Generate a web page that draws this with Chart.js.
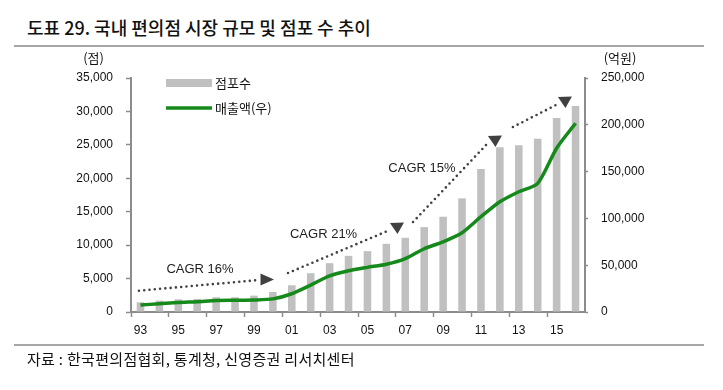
<!DOCTYPE html>
<html><head><meta charset="utf-8">
<script src="https://cdn.jsdelivr.net/npm/chart.js@4"></script>
<style>
html,body{margin:0;padding:0;background:#fff;}
#wrap{position:relative;width:723px;height:390px;overflow:hidden;}
#c{position:absolute;left:0;top:0;}
.txt{position:absolute;font-family:"Noto Sans CJK KR","Noto Sans",sans-serif;color:#111;white-space:nowrap;}
#title{left:27px;top:17px;font-size:18px;line-height:21px;font-weight:500;}
#src{left:27px;top:349px;font-size:15px;line-height:19px;letter-spacing:0.3px;}
.rule{position:absolute;left:14px;width:690px;height:2px;background:#a6a6a6;}
</style></head>
<body><div id="wrap">
<div id="title" class="txt">도표 29. 국내 편의점 시장 규모 및 점포 수 추이</div>
<div class="rule" style="top:45px"></div>
<canvas id="c" width="723" height="390"></canvas>
<div class="rule" style="top:344px"></div>
<div id="src" class="txt">자료 : 한국편의점협회, 통계청, 신영증권 리서치센터</div>
</div>
<script>
// ---- data ----
const categories = ['93','94','95','96','97','98','99','00','01','02','03','04','05','06','07','08','09','10','11','12','13','14','15','16'];
const stores = [1450,1700,1900,1950,2200,2200,2450,3000,4000,5800,7300,8400,9100,10200,11100,12700,14250,17000,21400,24650,24950,25900,29000,30800];
const sales = [7500,8800,10200,11000,12200,12500,12800,14000,19500,28800,38500,44000,47700,51000,57000,67600,75000,84700,101800,117800,128500,137500,175000,201600];
const leftTicks = [0,5000,10000,15000,20000,25000,30000,35000];
const rightTicks = [0,50000,100000,150000,200000,250000];
const seriesNames = ['점포수','매출액(우)'];
const unitLeft = '(점)';
const unitRight = '(억원)';
// CAGR annotations in data coordinates (category index, left-axis value)
const cagrText = ['CAGR 16%','CAGR 21%','CAGR 15%'];
const cagrAt = [[3.15,6431],[9.68,11666],[14.88,21538]];
const arrowFrom = [[-0.08,3186],[7.80,5833],[14.41,13461],[19.69,27670]];
const arrowTo = [[6.27,4786],[13.19,12265],[18.37,25277],[22.07,31110]];
const arrowHead = [[6.69,4861,'right'],[13.56,12564,'down'],[18.74,25576,'down'],[22.44,31410,'down']];

const GRAY='#c0c0c0', GREEN='#158a1a', AXIS='#8c8c8c';
const korFont = '"Noto Sans CJK KR","Noto Sans",sans-serif';
const latFont = '"Liberation Sans",Arial,sans-serif';

const overlay = {
  id:'overlay',
  afterDatasetsDraw(chart){
    const ctx=chart.ctx, x=chart.scales.x, y=chart.scales.y;
    ctx.save();
    // dotted arrows
    ctx.strokeStyle='#404040'; ctx.lineWidth=2.6; ctx.lineCap='round'; ctx.setLineDash([0,5.3]);
    for(let i=0;i<arrowFrom.length;i++){
      ctx.beginPath();
      ctx.moveTo(x.getPixelForValue(arrowFrom[i][0]), y.getPixelForValue(arrowFrom[i][1]));
      ctx.lineTo(x.getPixelForValue(arrowTo[i][0]), y.getPixelForValue(arrowTo[i][1]));
      ctx.stroke();
    }
    ctx.setLineDash([]);
    ctx.fillStyle='#404040';
    arrowHead.forEach(h=>{
      const cx=x.getPixelForValue(h[0]), cy=y.getPixelForValue(h[1]);
      ctx.beginPath();
      if(h[2]==='right'){ctx.moveTo(cx+7,cy);ctx.lineTo(cx-6.5,cy-6);ctx.lineTo(cx-6.5,cy+6);}
      else {ctx.moveTo(cx-7,cy-5);ctx.lineTo(cx+7,cy-5.5);ctx.lineTo(cx+0.5,cy+6);}
      ctx.closePath(); ctx.fill();
    });
    // CAGR labels
    ctx.fillStyle='#222'; ctx.font='13px '+latFont; ctx.textAlign='center'; ctx.textBaseline='middle';
    cagrText.forEach((t,i)=>ctx.fillText(t, x.getPixelForValue(cagrAt[i][0]), y.getPixelForValue(cagrAt[i][1])));
    // legend
    ctx.fillStyle=GRAY; ctx.fillRect(166,79,46,8);
    ctx.strokeStyle=GREEN; ctx.lineWidth=3.5; ctx.lineCap='butt';
    ctx.beginPath(); ctx.moveTo(166,108); ctx.lineTo(212,108); ctx.stroke();
    ctx.fillStyle='#111'; ctx.font='13px '+korFont; ctx.textAlign='left';
    ctx.fillText(chart.data.datasets[0].label, 215, 83);
    ctx.fillText(chart.data.datasets[1].label, 215, 108);
    // units
    ctx.textAlign='center';
    ctx.fillText(unitLeft, 93.5, 58);
    ctx.fillText(unitRight, 620, 58);
    ctx.restore();
  }
};

new Chart(document.getElementById('c'), {
  data:{
    labels:categories,
    datasets:[
      {type:'bar', label:seriesNames[0], data:stores, backgroundColor:GRAY, barPercentage:0.4, categoryPercentage:1.0, yAxisID:'y', order:2},
      {type:'line', label:seriesNames[1], data:sales, borderColor:GREEN, borderWidth:3.5, pointRadius:0, tension:0.25, yAxisID:'y1', order:1}
    ]
  },
  options:{
    responsive:false, animation:false, devicePixelRatio:1,
    layout:{padding:{top:78,bottom:48,left:0,right:0}},
    plugins:{legend:{display:false}, tooltip:{enabled:false}},
    scales:{
      x:{
        offset:true,
        grid:{offset:true, drawOnChartArea:false, drawTicks:true, tickLength:5,
              tickColor:(c)=> (c.index%2===0 ? AXIS : 'rgba(0,0,0,0)'), tickWidth:1.5},
        border:{color:AXIS, width:2},
        ticks:{autoSkip:false, maxRotation:0, padding:6, color:'#111', font:{family:latFont,size:12},
               callback:function(v,i){return i%2===0 ? categories[i] : '';}},
        afterFit:(s)=>{s.height=30;}
      },
      y:{
        position:'left', min:0, max:35000,
        afterBuildTicks:(s)=>{s.ticks=leftTicks.map(v=>({value:v}));},
        grid:{drawOnChartArea:false, tickLength:5, tickColor:AXIS, tickWidth:1.5},
        border:{color:AXIS, width:2},
        ticks:{padding:13, color:'#111', font:{family:latFont,size:12}, callback:(v)=>v.toLocaleString('en-US')},
        afterFit:(s)=>{s.width=131;}
      },
      y1:{
        position:'right', min:0, max:250000,
        afterBuildTicks:(s)=>{s.ticks=rightTicks.map(v=>({value:v}));},
        grid:{drawOnChartArea:false, tickLength:3, tickColor:AXIS, tickWidth:1.5},
        border:{color:AXIS, width:2},
        ticks:{padding:13, color:'#111', font:{family:latFont,size:12}, callback:(v)=>v.toLocaleString('en-US')},
        afterFit:(s)=>{s.width=138;}
      }
    }
  },
  plugins:[overlay]
});
</script>
</body></html>
